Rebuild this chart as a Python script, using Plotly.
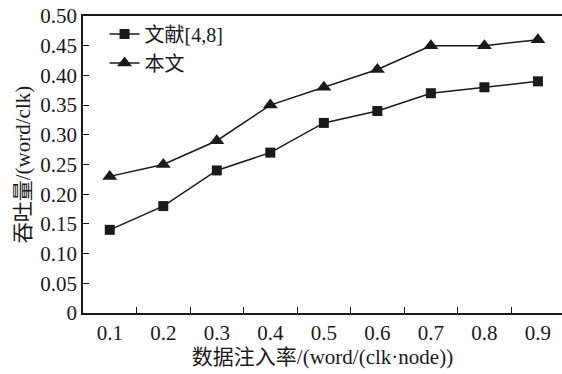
import plotly.graph_objects as go

categories = ["0.1", "0.2", "0.3", "0.4", "0.5", "0.6", "0.7", "0.8", "0.9"]
ref_values = [0.14, 0.18, 0.24, 0.27, 0.32, 0.34, 0.37, 0.38, 0.39]
ours_values = [0.23, 0.25, 0.29, 0.35, 0.38, 0.41, 0.45, 0.45, 0.46]
ref_name = "文献[4,8]"
ours_name = "本文"
y_tickvals = [0, 0.05, 0.10, 0.15, 0.20, 0.25, 0.30, 0.35, 0.40, 0.45, 0.50]
y_ticktext = ["0", "0.05", "0.10", "0.15", "0.20", "0.25", "0.30", "0.35", "0.40", "0.45", "0.50"]

FONT = "Liberation Serif, Times New Roman, Noto Sans CJK SC, serif"
C = "#1a1a1a"

fig = go.Figure()
fig.add_trace(go.Scatter(x=categories, y=ref_values, name=ref_name, mode="lines+markers",
                         line=dict(color=C, width=1.5),
                         marker=dict(symbol="square", size=10, color=C)))
fig.add_trace(go.Scatter(x=categories, y=ours_values, name=ours_name, mode="lines+markers",
                         line=dict(color=C, width=1.5),
                         marker=dict(symbol="triangle-up", size=13, color=C)))

fig.update_layout(
    width=562, height=374,
    margin=dict(l=83, r=0, t=16, b=61),
    paper_bgcolor="white", plot_bgcolor="white",
    font=dict(family=FONT, size=21, color=C),
    showlegend=True,
    legend=dict(x=0.045, y=1.005, xanchor="left", yanchor="top",
                bgcolor="rgba(0,0,0,0)", font=dict(size=20),
                tracegroupgap=0, itemsizing="trace"),
)
fig.update_xaxes(
    type="category", range=[-0.5, 8.45],
    showline=True, linecolor=C, linewidth=1.5, mirror=True,
    ticks="inside", ticklen=6, tickcolor=C, tickwidth=1.2, tickson="boundaries",
    showgrid=False, zeroline=False,
    title=dict(text="数据注入率/(word/(clk·node))", standoff=4, font=dict(size=21)),
)
fig.update_yaxes(
    range=[0, 0.5], tickvals=y_tickvals, ticktext=y_ticktext,
    showline=True, linecolor=C, linewidth=1.5,
    ticks="inside", ticklen=6, tickcolor=C, tickwidth=1.2,
    showgrid=False, zeroline=False,
    title=dict(text="吞吐量/(word/clk)", standoff=4, font=dict(size=21)),
)

fig.write_html("out.html", config={"displayModeBar": False},
               post_script="document.body.style.margin='0';")
